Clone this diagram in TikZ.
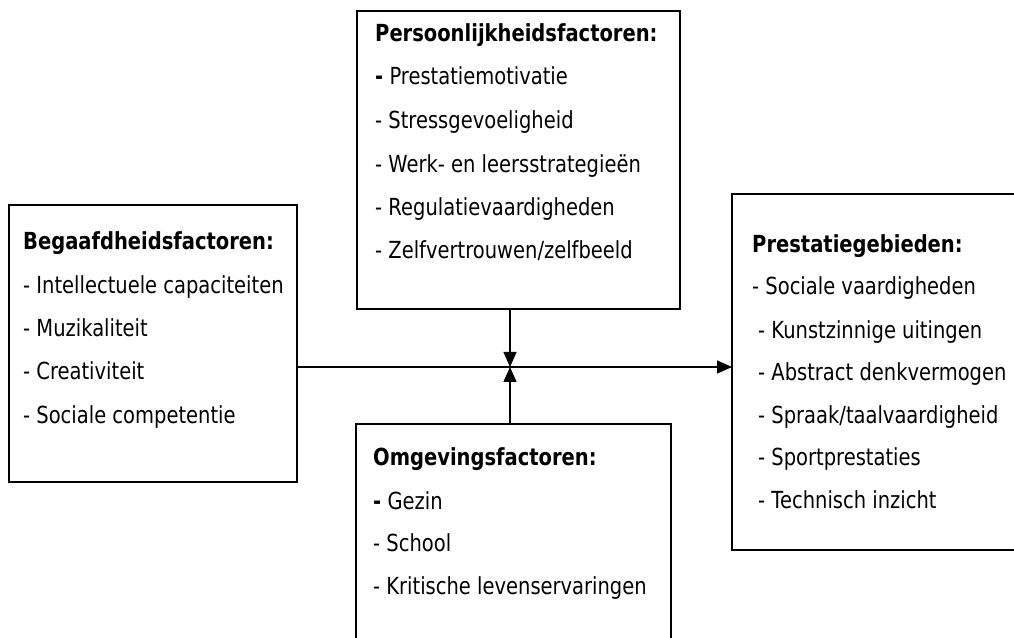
\documentclass[tikz,border=0pt]{standalone}
\usepackage{fontspec}
\setmainfont{DejaVu Sans}[FakeStretch=0.83]
\usetikzlibrary{arrows.meta}
\begin{document}
\begin{tikzpicture}[x=1pt,y=1pt,
  box/.style={draw=black, line width=1.3pt, rectangle, inner sep=0pt, outer sep=0pt},
  txt/.style={anchor=base west, inner sep=0pt, font=\fontsize{23.5}{28}\selectfont},
  ttl/.style={txt, font=\fontsize{23.5}{28}\selectfont\bfseries},
  arr/.style={line width=1.3pt, -{Triangle[length=15pt,width=13pt]}}]
\useasboundingbox (0,0) rectangle (1014,637);
\clip (0,0) rectangle (1014,637);
% boxes (pixel coords: y_tikz = 637 - y_px)
\node[box, minimum width=288pt, minimum height=277pt] (bega) at (153,293.5) {};
\node[box, minimum width=323pt, minimum height=298pt] (pers) at (518.5,477) {};
\node[box, minimum width=315pt, minimum height=240pt] (omg) at (513.5,93) {};
\node[box, minimum width=320pt, minimum height=356pt] (prest) at (892,265) {};
\coordinate (j) at (510,270);
% connectors
\draw[arr] (bega.east |- j) -- (prest.west |- j);
\draw[arr] (pers.south -| j) -- (j);
\draw[arr] (omg.north -| j) -- (j);
% texts: Begaafdheid
\node[ttl] (bt) at (23,387) {Begaafdheidsfactoren:};
\foreach \t [count=\i] in {Intellectuele capaciteiten,Muzikaliteit,Creativiteit,Sociale competentie}
  \node[txt] (bi\i) at (23,{387-43.3*\i}) {- \t};
% Persoonlijkheid
\node[ttl] (pt) at (375,595) {Persoonlijkheidsfactoren:};
\node[txt] (pi1) at (375,552) {{\bfseries -} Prestatiemotivatie};
\foreach \t [count=\i from 2] in {Stressgevoeligheid,Werk- en leersstrategieën,Regulatievaardigheden,Zelfvertrouwen/zelfbeeld}
  \node[txt] (pi\i) at (375,{595-43.4*\i}) {- \t};
% Omgeving
\node[ttl] (ot) at (373,171) {Omgevingsfactoren:};
\node[txt] (oi1) at (373,127) {{\bfseries -} Gezin};
\foreach \t [count=\i from 2] in {School,Kritische levenservaringen}
  \node[txt] (oi\i) at (373,{171-43*\i}) {- \t};
% Prestatiegebieden
\node[ttl] (rt) at (752,384) {Prestatiegebieden:};
\node[txt] (ri1) at (752,342) {- Sociale vaardigheden};
\foreach \t [count=\i from 2] in {Kunstzinnige uitingen,Abstract denkvermogen,Spraak/taalvaardigheid,Sportprestaties,Technisch inzicht}
  \node[txt] (ri\i) at (758,{384-42.6*\i}) {- \t};
\end{tikzpicture}
\end{document}
